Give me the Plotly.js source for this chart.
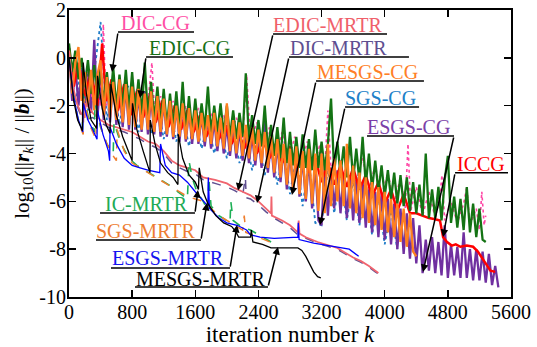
<!DOCTYPE html>
<html>
<head>
<meta charset="utf-8">
<script src="https://cdn.plot.ly/plotly-3.0.1.min.js"></script>
<style>html,body{margin:0;padding:0;background:#fff;}#chart{width:537px;height:347px;}</style>
</head>
<body>
<div id="chart"></div>
<script>
// ---------------- DATA (log10 relative residual) ----------------
// CG-type solvers sampled every CG_STEP iterations
const CG_STEP = 40;
const SGS_CG_STEP = 80;

const edicCgY = [
  0.6, -0.6, 0.3, -0.9, 0.0, -1.2, -0.1, -1.5, -0.3, -1.7,
  -0.5, -1.9, -0.6, -2.0, -0.4, -2.1, -0.7, -2.1, -0.5, -2.2,
  -0.6, -2.3, -0.9, -2.4, -0.2, -2.5, -1.0, -2.6, -1.2, -2.8,
  -1.3, -2.9, -1.5, -2.9, -1.4, -3.0, -1.0, -3.1, -1.6, -3.1,
  -1.7, -3.1, -1.9, -3.0, -1.2, -3.2, -2.0, -3.1, -1.9, -3.2,
  -2.0, -3.3, -2.2, -3.4, -2.3, -3.3, -0.65, -3.5, -2.4, -3.6,
  -2.6, -3.7, -2.0, -3.9, -2.8, -4.1, -2.9, -4.2, -2.5, -4.4,
  -3.1, -4.5, -3.3, -4.6, -3.2, -4.6, -3.4, -4.7, -3.0, -4.6,
  -3.5, -4.7, -3.6, -1.7, -4.8, -3.5, -4.9, -3.7, -5.0, -3.3,
  -5.1, -3.8, -5.2, -3.3, -5.3, -4.0, -5.5, -4.3, -5.6, -4.5,
  -5.8, -4.7, -5.9, -4.8, -6.1, -4.9, -6.2, -5.0, -6.4, -5.2,
  -6.5, -5.3, -6.6, -4.0, -6.7, -5.5, -6.7, -5.4, -6.8, -5.1,
  -4.1, -6.9, -5.8, -7.1, -5.9, -7.2, -5.4, -7.3, -6.1, -7.5,
  -6.3, -7.6, -7.7
];

const mesgsCgY = [
  0.3, -1.5, -0.2, 0.45, -1.8, -0.6, -2.0, -0.5, -2.2, -0.7,
  -0.1, -2.4, -0.8, -2.5, -1.0, -2.6, -0.9, -2.7, -1.1, -2.8,
  -1.2, -2.9, -1.3, -3.0, -1.5, -3.0, -1.4, -3.1, -1.6, -3.1,
  -1.7, -3.2, -1.8, -3.3, -2.0, -3.3, -1.9, -3.4, -2.1, -3.4,
  -2.2, -3.5, -2.3, -3.5, -2.4, -3.6, -2.3, -3.7, -2.5, -3.8,
  -1.9, -3.9, -2.6, -4.0, -2.7, -4.1, -2.8, -4.2, -2.9, -4.3,
  -3.0, -4.4, -3.1, -4.6, -3.3, -4.8, -3.4, -5.0, -3.6, -5.3,
  -3.8, -5.5, -3.7, -5.7, -3.9, -5.9, -3.8, -6.1, -4.0, -6.4,
  -4.0, -6.5, -3.6, -6.2, -4.2, -6.0, -4.3, -6.2, -3.6, -6.3,
  -4.5, -6.5, -4.8, -6.7, -5.0, -6.9, -5.2, -7.0, -5.4, -7.2,
  -5.6, -7.3, -5.9, -7.5, -6.1, -7.7, -6.3, -7.9, -6.5, -8.1, -8.3
];

const esgsCgY = [
  0.4, -1.8, -0.3, -2.0, -0.5, -2.2, -0.6, -2.3, 0.75, -2.5,
  -0.8, -2.6, -1.0, -2.7, -0.9, -2.8, -1.1, -2.9, -1.2, -3.0,
  -1.3, -3.0, -1.5, -3.1, -1.4, -3.2, -1.6, -3.2, -1.7, -3.3,
  -1.8, -3.3, -1.9, -3.4, -2.0, -3.5, -2.1, -3.5, -2.2, -3.6,
  -2.3, -3.6, -2.4, -3.7, -2.5, -3.8, -2.6, -3.9, -2.7, -4.0,
  -2.8, -4.1, -2.9, -4.2, -3.0, -4.3, -3.1, -4.4, -3.2, -4.5,
  -3.3, -4.6, -2.6, -4.8, -3.5, -5.0, -3.6, -5.2, -3.7, -5.5,
  -3.9, -5.6, -4.0, -5.8, -4.1, -6.0, -4.2, -6.3, -4.4, -6.8,
  -7.0, -4.5, -6.6, -4.6, -6.3, -4.7, -6.5, -4.8, -6.7, -4.9,
  -6.8, -5.0, -6.9, -5.2, -7.1, -5.4, -7.3, -5.6, -7.5, -5.7,
  -7.6, -5.9, -7.8, -6.1, -8.0, -6.3, -8.2, -6.5, -8.4, -6.7,
  -8.6, -7.0, -9.0, -7.6, -8.9, -7.5, -9.0, -7.7, -9.1, -7.0,
  -9.2, -7.8, -9.1, -7.9, -9.2, -7.3, -9.2, -8.0, -9.3, -8.0,
  -9.3, -8.1, -9.4, -8.2, -9.5, -8.7, -9.6
];

const sgsCgY = [
  0.3, -1.9, -0.4, -2.2, -0.6, 1.5, -2.6, -0.9, -2.8, -1.1,
  -1.4, -3.1, -1.6, -3.2, -1.9, -3.4, -2.1, -3.5, -2.3, -3.7,
  -2.5, -3.8, -2.7, -4.0, -2.9, -4.2, -3.1, -4.4, -3.3, -4.7,
  -3.5, -4.9, -3.7, -5.3, -3.9, -5.7, -4.1, -6.2, -4.3, -6.9,
  -7.0, -4.6, -6.5, -4.8, -6.8, -5.1, -7.0, -5.4, -7.4, -5.8,
  -7.8, -6.4, -8.0
];

// [iteration, log10 residual]
const dicCg = [
  [0,0.2],[60,-1.0],[120,-0.3],[180,-1.5],[240,-0.6],[300,-1.8],[360,-0.8],[400,-2.0],[435,1.4],[470,-2.0],
  [540,-1.0],[620,-2.2],[700,-1.1],[780,-2.4],[860,-1.3],[940,-2.5],[1010,-1.5],[1050,-0.2],[1090,-2.6],[1160,-1.6],
  [1240,-2.8],[1320,-1.8],[1400,-2.9],[1480,-2.0],[1560,-3.0],[1640,-2.1],[1720,-3.1],[1800,-2.3],[1880,-3.2],[1960,-2.4],
  [2040,-3.3],[2120,-2.5],[2200,-3.4],[2250,-0.7],[2300,-3.5],[2380,-2.7],[2460,-3.8],[2540,-2.9],[2620,-4.1],[2700,-3.1],
  [2780,-4.4],[2860,-3.3],[2940,-4.5],[3020,-3.5],[3100,-4.6],[3180,-3.6],[3240,-4.7],[3280,-2.2],[3320,-4.7],[3400,-3.8],
  [3480,-4.9],[3560,-3.9],[3640,-5.2],[3720,-4.2],[3800,-5.5],[3880,-4.5],[3960,-5.8],[4040,-4.8],[4120,-6.1],[4200,-5.0],
  [4260,-6.3],[4295,-3.6],[4330,-6.4],[4400,-5.4],[4480,-6.6],[4560,-5.6],[4640,-6.7],[4700,-5.8],[4725,-4.9],[4760,-6.8],
  [4840,-6.0],[4920,-6.9],[5000,-6.1],[5040,-5.4],[5080,-7.0],[5160,-6.3],[5200,-7.2],[5230,-5.6],[5260,-7.0],[5280,-6.6]
];

const iccg = [
  [0,0.4],[60,-1.2],[120,-0.2],[200,-1.6],[280,-0.6],[360,-2.0],[420,0.6],[470,-1.8],[540,-0.9],[620,-2.2],
  [700,-1.1],[780,-2.4],[860,-1.4],[940,-2.5],[1020,-1.6],[1100,-2.7],[1180,-1.8],[1260,-2.9],[1340,-2.0],[1420,-3.0],
  [1500,-2.2],[1580,-3.1],[1660,-2.4],[1740,-3.3],[1820,-2.6],[1900,-3.4],[1980,-2.8],[2060,-3.6],[2140,-3.0],[2220,-3.8],
  [2300,-3.2],[2380,-4.0],[2460,-3.4],[2540,-4.2],[2620,-3.6],[2700,-4.4],[2800,-3.7],[2880,-4.6],[2960,-3.9],[3040,-4.8],
  [3120,-4.2],[3200,-5.2],[3280,-4.4],[3360,-5.3],[3440,-4.5],[3520,-5.4],[3600,-4.6],[3680,-5.5],[3760,-4.9],[3840,-5.8],
  [3920,-5.2],[4000,-6.1],[4080,-5.5],[4160,-6.4],[4240,-5.7],[4320,-6.5],[4400,-6.5],[4480,-6.6],[4560,-6.7],[4640,-6.75],
  [4700,-6.8],[4740,-7.5],[4790,-7.7],[4850,-7.85],[4900,-7.8],[4960,-7.9],[5040,-7.85],[5120,-7.9],[5180,-8.1],[5260,-8.5],
  [5340,-8.9],[5400,-8.95]
];

const edicMrtr = [
  [0,0.3],[50,-1.2],[100,-1.9],[150,-2.3],[200,-2.5],[210,-1.9],[300,-2.3],[400,-2.6],[500,-2.8],[600,-2.9],
  [700,-3.0],[800,-3.1],[900,-3.3],[1000,-3.5],[1100,-3.6],[1200,-3.9],[1300,-4.3],[1400,-4.5],[1500,-4.6],[1600,-4.7],
  [1700,-5.0],[1850,-5.1],[2000,-5.25],[2100,-5.45],[2200,-5.6],[2300,-5.75],[2400,-6.0],[2500,-6.3],[2560,-6.5],[2565,-5.8],
  [2570,-6.6],[2700,-6.8],[2800,-7.0],[2900,-7.3],[2910,-6.8],[2920,-7.35],[3000,-7.5],[3150,-7.7],[3300,-7.85],[3400,-7.95],
  [3500,-8.15],[3600,-8.35],[3700,-8.5],[3800,-8.7],[3880,-8.9],[3920,-9.0]
];

const dicMrtr = [
  [0,0.2],[50,-1.3],[100,-2.0],[150,-2.4],[200,-2.6],[300,-2.5],[400,-2.7],[500,-2.9],[600,-3.0],[700,-3.1],
  [800,-3.25],[900,-3.4],[1000,-3.6],[1100,-3.75],[1200,-4.0],[1300,-4.4],[1400,-4.6],[1500,-4.75],[1600,-4.85],[1700,-5.1],
  [1850,-5.25],[2000,-5.4],[2100,-5.55],[2200,-5.75],[2235,-5.0],[2245,-5.85],[2300,-5.9],[2400,-6.15],[2500,-6.45],[2600,-6.7],
  [2700,-6.9],[2800,-7.1],[2900,-7.4],[3000,-7.55],[3150,-7.75],[3300,-7.9],[3400,-8.0],[3500,-8.2],[3600,-8.4],[3700,-8.55],
  [3800,-8.75],[3880,-8.95],[3930,-9.05]
];

const icMrtr = [
  [0,0],[45,-1.4],[110,-2.5],[170,-3.0],[178,-1.5],[240,-2.4],[320,-3.1],[330,-1.9],[400,-2.9],[480,-3.6],
  [560,-4.0],[570,-2.7],[660,-3.6],[760,-4.2],[860,-4.5],[960,-4.7],[1060,-4.9],[1160,-5.1],[1260,-5.3],[1380,-5.6],
  [1500,-5.9],[1520,-4.3],[1560,-5.0],[1620,-5.6],[1700,-6.0],[1760,-6.4],[1770,-5.0],[1800,-6.2],[1900,-6.6],[2040,-6.9],
  [2050,-6.0],[2080,-6.8],[2200,-7.1],[2300,-7.2],[2400,-7.4],[2560,-7.7]
];

const sgsMrtr = [
  [0,0],[50,-1.6],[120,-2.7],[180,-3.2],[190,-1.7],[260,-2.8],[340,-3.4],[350,-2.2],[430,-3.2],[520,-3.9],
  [600,-4.3],[610,-3.0],[700,-3.9],[800,-4.4],[900,-4.6],[1000,-4.8],[1100,-5.0],[1200,-5.2],[1300,-5.4],[1400,-5.6],
  [1500,-5.8],[1600,-5.9],[1700,-6.0],[1750,-6.1],[1800,-6.3],[1900,-6.6],[2000,-6.8],[2100,-7.0],[2200,-7.2],[2220,-6.6],
  [2240,-7.3],[2400,-7.5],[2560,-7.7],[2620,-7.8]
];

const esgsMrtr = [
  [0,0],[50,-1.5],[120,-2.6],[175,-3.1],[180,-1.9],[240,-2.6],[300,-3.0],[355,-3.4],[360,-2.2],[430,-3.2],
  [500,-3.9],[515,-4.3],[520,-2.9],[600,-3.6],[700,-4.2],[800,-4.5],[900,-4.6],[1000,-4.7],[1150,-4.8],[1160,-3.6],
  [1220,-4.5],[1300,-4.8],[1400,-4.9],[1500,-5.2],[1600,-5.6],[1700,-6.0],[1760,-6.2],[1765,-5.0],[1780,-6.3],[1900,-6.7],
  [2000,-6.9],[2130,-7.0],[2250,-7.2],[2300,-7.4],[2420,-7.5],[2600,-7.55],[2900,-7.5],[2905,-6.9],[2915,-7.6],[3100,-7.75],
  [3300,-7.85],[3450,-7.95],[3550,-8.0],[3670,-8.3]
];

const mesgsMrtr = [
  [0,0],[20,-0.7],[60,-1.8],[110,-2.6],[170,-3.05],[180,-0.2],[220,-1.5],[280,-2.6],[350,-2.95],[360,-0.75],
  [420,-2.1],[470,-2.8],[520,-3.15],[530,-1.1],[600,-2.4],[680,-3.3],[760,-4.0],[800,-4.3],[805,-1.9],[860,-3.0],
  [940,-3.9],[1010,-4.6],[1026,-4.8],[1030,-2.6],[1090,-3.6],[1160,-4.4],[1250,-4.8],[1320,-5.0],[1380,-5.3],[1385,-3.2],
  [1440,-4.2],[1520,-4.9],[1600,-5.2],[1640,-5.5],[1650,-4.6],[1700,-5.6],[1760,-6.1],[1860,-6.6],[1960,-6.9],[2060,-7.05],
  [2110,-7.25],[2150,-7.5],[2300,-7.5],[2310,-7.2],[2330,-7.7],[2450,-7.8],[2560,-7.95],[2900,-7.95],[2950,-8.05],[3000,-8.3],
  [3050,-8.6],[3100,-8.95],[3150,-9.15],[3190,-9.2]
];

const xTickVals = [0, 800, 1600, 2400, 3200, 4000, 4800, 5600];
const yTickVals = [-10, -8, -6, -4, -2, 0, 2];
const yTickText = ['-10', '-8', '-6', '-4', '-2', '0', '2'];

// ---------------- TRACES ----------------
function gridTrace(vals, step, color, width, dash) {
  return { type: 'scatter', mode: 'lines', x: vals.map((_, i) => i * step), y: vals,
    line: { color: color, width: width, dash: dash || 'solid' }, hoverinfo: 'skip' };
}
function pairTrace(pairs, color, width, dash) {
  return { type: 'scatter', mode: 'lines', x: pairs.map(p => p[0]), y: pairs.map(p => p[1]),
    line: { color: color, width: width, dash: dash || 'solid' }, hoverinfo: 'skip' };
}

const traces = [
  gridTrace(sgsCgY, SGS_CG_STEP, '#1f7cc8', 1.8, 'dot'),
  gridTrace(esgsCgY, CG_STEP, '#7030a0', 2.3),
  pairTrace(dicCg, '#ff45a5', 1.6, 'dot'),
  pairTrace(iccg, '#ff0000', 2.5),
  gridTrace(edicCgY, CG_STEP, '#147314', 2.3),
  gridTrace(mesgsCgY, CG_STEP, '#ff7f1e', 2.3),
  pairTrace(dicMrtr, '#5f4f90', 1.5, 'dash'),
  pairTrace(edicMrtr, '#f0646e', 1.8),
  pairTrace(icMrtr, '#1db056', 1.6, 'dash'),
  pairTrace(sgsMrtr, '#ef7f2f', 1.5, 'dash'),
  pairTrace(esgsMrtr, '#0000ff', 1.3),
  pairTrace(mesgsMrtr, '#000000', 1.3)
];

// ---------------- LABELS (layout) ----------------
const labels = [
  { t: 'DIC-CG',     c: '#ff4fa5', tx: 671,  uy: 1.08,  u0: 621,  u1: 1584, hx: 545,  hy: -0.59, sx: 621,  sy: 1.08, ys: -3 },
  { t: 'EDIC-CG',    c: '#157015', tx: 1026, uy: 0.04,  u0: 976,  u1: 2078, hx: 900,  hy: -1.68, sx: 976,  sy: 0.04, ys: -3 },
  { t: 'EDIC-MRTR',  c: '#f0606a', tx: 2597, uy: 1.0,   u0: 2585, u1: 4029, hx: 2141, hy: -5.55, sx: 2585, sy: 1.0, ys: -3 },
  { t: 'DIC-MRTR',   c: '#5e4e90', tx: 2813, uy: 0.035, u0: 2787, u1: 4307, hx: 2382, hy: -6.07, sx: 2787, sy: 0.035, ys: -3 },
  { t: 'MESGS-CG',   c: '#ff7f27', tx: 3155, uy: -0.97, u0: 3129, u1: 4497, hx: 2825, hy: -5.73, sx: 3129, sy: -0.97, ys: -3 },
  { t: 'SGS-CG',     c: '#2080c8', tx: 3510, uy: -2.06, u0: 3497, u1: 4435, hx: 3180, hy: -6.99, sx: 3497, sy: -2.06, ys: -3 },
  { t: 'ESGS-CG',    c: '#7b3fa8', tx: 3788, uy: -3.27, u0: 3776, u1: 4878, hx: 4485, hy: -8.95, sx: 4878, sy: -3.27, ys: -3 },
  { t: 'ICCG',       c: '#ff0000', tx: 4929, uy: -4.81, u0: 4891, u1: 5562, hx: 4739, hy: -7.49, sx: 4891, sy: -4.81, ys: -3 },
  { t: 'IC-MRTR',    c: '#22aa55', tx: 469,  uy: -6.49, u0: 393,  u1: 1596, hx: 1634, hy: -5.53, sx: 1596, sy: -6.49, ys: -3 },
  { t: 'SGS-MRTR',   c: '#ee7d33', tx: 355,  uy: -7.62, u0: 342,  u1: 1672, hx: 1748, hy: -6.07, sx: 1672, sy: -7.62, ys: -3 },
  { t: 'ESGS-MRTR',  c: '#1414f0', tx: 557,  uy: -8.79, u0: 532,  u1: 2040, hx: 2129, hy: -6.99, sx: 2040, sy: -8.79, ys: -2 },
  { t: 'MESGS-MRTR', c: '#000000', tx: 862,  uy: -9.58, u0: 836,  u1: 2521, hx: 2648, hy: -7.91, sx: 2521, sy: -9.58, ys: -4 }
];

const SERIF = 'Liberation Serif, Times New Roman, serif';
const annotations = [];
const shapes = [];
labels.forEach(l => {
  annotations.push({ x: l.tx, y: l.uy, xref: 'x', yref: 'y', text: l.t, showarrow: false,
    xanchor: 'left', yanchor: 'bottom', yshift: l.ys, xshift: -2, borderpad: 0,
    font: { family: SERIF, size: 20, color: l.c } });
  shapes.push({ type: 'line', xref: 'x', yref: 'y', x0: l.u0, x1: l.u1, y0: l.uy, y1: l.uy,
    line: { color: '#000', width: 1.5 } });
  annotations.push({ x: l.hx, y: l.hy, ax: l.sx, ay: l.sy, xref: 'x', yref: 'y', axref: 'x', ayref: 'y',
    text: '', showarrow: true, arrowhead: 2, arrowsize: 1, arrowwidth: 1.5, arrowcolor: '#000', standoff: 0 });
});

const axisCommon = {
  showline: true, linecolor: '#000', linewidth: 2, mirror: 'ticks',
  ticks: 'inside', ticklen: 7, tickwidth: 1.5, tickcolor: '#000',
  showgrid: false, zeroline: false, ticklabeloverflow: 'allow',
  tickfont: { family: SERIF, size: 20, color: '#000' }
};

const layout = {
  width: 537, height: 347,
  margin: { l: 69, r: 26, t: 10, b: 50 },
  paper_bgcolor: '#fff', plot_bgcolor: '#fff',
  showlegend: false,
  font: { family: SERIF, color: '#000' },
  xaxis: Object.assign({}, axisCommon, {
    range: [0, 5600], tickmode: 'array', tickvals: xTickVals, ticklabelstandoff: -4,
    title: { text: 'iteration number <i>k</i>', font: { size: 23 }, standoff: 5 }
  }),
  yaxis: Object.assign({}, axisCommon, {
    range: [-10, 2], tickmode: 'array', tickvals: yTickVals, ticktext: yTickText, ticklabelstandoff: -3,
    title: { text: 'log<sub>10</sub>(||<b><i>r</i></b><sub><i>k</i></sub>|| / ||<b><i>b</i></b>||)', font: { size: 21 }, standoff: 4 }
  }),
  annotations: annotations,
  shapes: shapes
};

Plotly.newPlot('chart', traces, layout, { staticPlot: true, displayModeBar: false });
</script>
</body>
</html>
